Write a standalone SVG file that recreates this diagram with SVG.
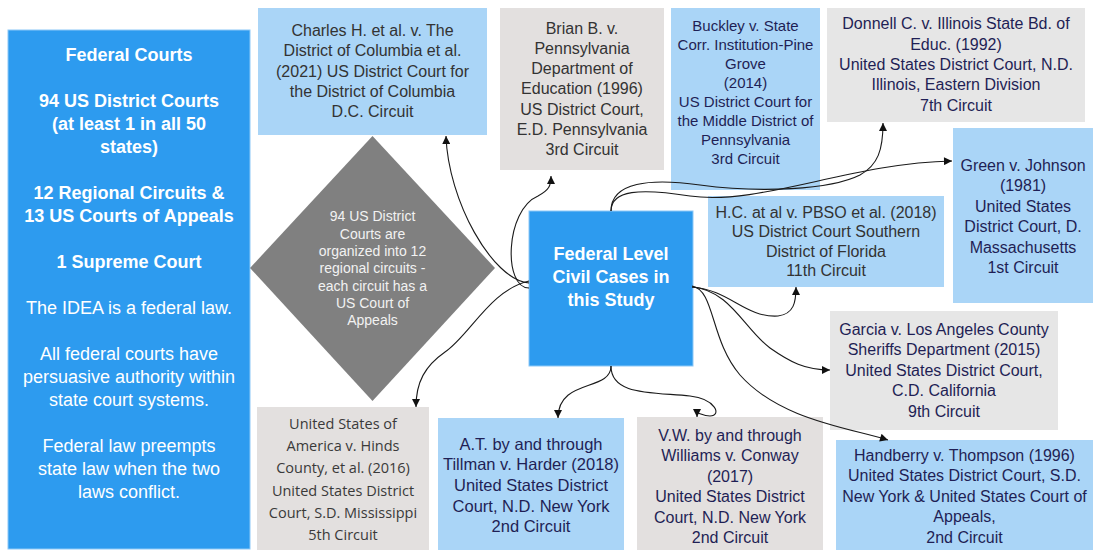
<svg xmlns="http://www.w3.org/2000/svg" width="1098" height="550" viewBox="0 0 1098 550">
<style>
.blue{fill:#2d9bef;stroke:#8cc8f7;stroke-width:1}
.lb{fill:#aad5f7}
.g1{fill:#e3e0df}
.g2{fill:#e6e6e6}
.t{font-family:"Liberation Sans",Arial,sans-serif;font-size:16px;text-anchor:middle}
.nv{fill:#1f1f55}
.dk{fill:#333333}
.wb{fill:#ffffff;font-weight:bold;font-size:18px}
.w{fill:#ffffff;font-size:18px}
.os{font-family:"Open Sans","Noto Sans",sans-serif;font-size:14.5px;text-anchor:middle;fill:#3a3a3a}
.c{fill:none;stroke:#1a1a1a;stroke-width:1.1;marker-end:url(#ah)}
</style>
<defs>
<marker id="ah" viewBox="0 0 10 10" refX="10" refY="5" markerWidth="9" markerHeight="8" markerUnits="userSpaceOnUse" orient="auto">
<path d="M0,0 L10,5 L0,10 z" fill="#111"/>
</marker>
</defs>
<rect width="1098" height="550" fill="#ffffff"/>

<g id="federal-courts">
<rect class="blue" x="8" y="30" width="242" height="519"/>
<text class="t wb" x="129" y="61">Federal Courts</text>
<text class="t wb" x="129" y="107">94 US District Courts</text>
<text class="t wb" x="129" y="130">(at least 1 in all 50</text>
<text class="t wb" x="129" y="153">states)</text>
<text class="t wb" x="129" y="199">12 Regional Circuits &amp;</text>
<text class="t wb" x="129" y="222">13 US Courts of Appeals</text>
<text class="t wb" x="129" y="268">1 Supreme Court</text>
<text class="t w" x="129" y="314">The IDEA is a federal law.</text>
<text class="t w" x="129" y="360">All federal courts have</text>
<text class="t w" x="129" y="383">persuasive authority within</text>
<text class="t w" x="129" y="406">state court systems.</text>
<text class="t w" x="129" y="452">Federal law preempts</text>
<text class="t w" x="129" y="475">state law when the two</text>
<text class="t w" x="129" y="498">laws conflict.</text>
</g>

<g id="diamond">
<polygon points="372.5,136 495,268 372.5,401 250,268" fill="#808080"/>
<g class="t" style="font-size:14px;fill:#f2f2f2">
<text x="372.5" y="221">94 US District</text>
<text x="372.5" y="238.5">Courts are</text>
<text x="372.5" y="256">organized into 12</text>
<text x="372.5" y="273">regional circuits -</text>
<text x="372.5" y="290.5">each circuit has a</text>
<text x="372.5" y="308">US Court of</text>
<text x="372.5" y="325">Appeals</text>
</g>
</g>

<g id="charles">
<rect class="lb" x="258" y="8" width="229" height="127"/>
<text class="t dk" x="372.5" y="36">Charles H. et al. v. The</text>
<text class="t dk" x="372.5" y="56.3">District of Columbia et al.</text>
<text class="t dk" x="372.5" y="76.6">(2021) US District Court for</text>
<text class="t dk" x="372.5" y="96.9">the District of Columbia</text>
<text class="t dk" x="372.5" y="117.2">D.C. Circuit</text>
</g>

<g id="brian">
<rect class="g1" x="500" y="8" width="164" height="162"/>
<text class="t dk" x="582" y="33.5">Brian B. v.</text>
<text class="t dk" x="582" y="53.8">Pennsylvania</text>
<text class="t dk" x="582" y="74.1">Department of</text>
<text class="t dk" x="582" y="94.4">Education (1996)</text>
<text class="t dk" x="582" y="114.7">US District Court,</text>
<text class="t dk" x="582" y="135">E.D. Pennsylvania</text>
<text class="t dk" x="582" y="155.3">3rd Circuit</text>
</g>

<g id="buckley">
<rect class="lb" x="671" y="8" width="149" height="182"/>
<g class="t nv" style="font-size:15px">
<text x="745.5" y="30.5">Buckley v. State</text>
<text x="745.5" y="49.5">Corr. Institution-Pine</text>
<text x="745.5" y="68.5">Grove</text>
<text x="745.5" y="87.5">(2014)</text>
<text x="745.5" y="106.5">US District Court for</text>
<text x="745.5" y="125.5">the Middle District of</text>
<text x="745.5" y="144.5">Pennsylvania</text>
<text x="745.5" y="163.5">3rd Circuit</text>
</g>
</g>

<g id="donnell">
<rect class="g2" x="827" y="8" width="258" height="114"/>
<text class="t nv" x="956" y="29.3">Donnell C. v. Illinois State Bd. of</text>
<text class="t nv" x="956" y="49.6">Educ. (1992)</text>
<text class="t nv" x="956" y="69.9">United States District Court, N.D.</text>
<text class="t nv" x="956" y="90.2">Illinois, Eastern Division</text>
<text class="t nv" x="956" y="110.5">7th Circuit</text>
</g>

<g id="green">
<rect class="lb" x="953" y="128" width="140" height="175"/>
<text class="t nv" x="1023" y="171">Green v. Johnson</text>
<text class="t nv" x="1023" y="191.4">(1981)</text>
<text class="t nv" x="1023" y="211.8">United States</text>
<text class="t nv" x="1023" y="232.2">District Court, D.</text>
<text class="t nv" x="1023" y="252.6">Massachusetts</text>
<text class="t nv" x="1023" y="273">1st Circuit</text>
</g>

<g id="hc">
<rect class="lb" x="708" y="196" width="236" height="91"/>
<text class="t dk" x="826" y="217.5">H.C. at al v. PBSO et al. (2018)</text>
<text class="t dk" x="826" y="237">US District Court Southern</text>
<text class="t dk" x="826" y="256.5">District of Florida</text>
<text class="t dk" x="826" y="276">11th Circuit</text>
</g>

<g id="center">
<rect class="blue" x="529" y="211" width="164" height="155"/>
<text class="t wb" x="611" y="259.5">Federal Level</text>
<text class="t wb" x="611" y="282.5">Civil Cases in</text>
<text class="t wb" x="611" y="305.5">this Study</text>
</g>

<g id="garcia">
<rect class="g2" x="830" y="311" width="228" height="119"/>
<text class="t nv" x="944" y="335">Garcia v. Los Angeles County</text>
<text class="t nv" x="944" y="355.4">Sheriffs Department (2015)</text>
<text class="t nv" x="944" y="375.8">United States District Court,</text>
<text class="t nv" x="944" y="396.2">C.D. California</text>
<text class="t nv" x="944" y="416.6">9th Circuit</text>
</g>

<g id="handberry">
<rect class="lb" x="836" y="440" width="257" height="110"/>
<text class="t nv" x="964.5" y="461">Handberry v. Thompson (1996)</text>
<text class="t nv" x="964.5" y="481.4">United States District Court, S.D.</text>
<text class="t nv" x="964.5" y="501.8">New York &amp; United States Court of</text>
<text class="t nv" x="964.5" y="522.2">Appeals,</text>
<text class="t nv" x="964.5" y="542.6">2nd Circuit</text>
</g>

<g id="vw">
<rect class="g1" x="637" y="417" width="186" height="133"/>
<text class="t nv" x="730" y="441">V.W. by and through</text>
<text class="t nv" x="730" y="461.4">Williams v. Conway</text>
<text class="t nv" x="730" y="481.8">(2017)</text>
<text class="t nv" x="730" y="502.2">United States District</text>
<text class="t nv" x="730" y="522.6">Court, N.D. New York</text>
<text class="t nv" x="730" y="543">2nd Circuit</text>
</g>

<g id="at">
<rect class="lb" x="438" y="418" width="186" height="132"/>
<g class="t nv" style="font-size:16.5px">
<text x="531" y="449.5">A.T. by and through</text>
<text x="531" y="470.2">Tillman v. Harder (2018)</text>
<text x="531" y="490.9">United States District</text>
<text x="531" y="511.6">Court, N.D. New York</text>
<text x="531" y="532.3">2nd Circuit</text>
</g>
</g>

<g id="usa">
<rect class="g1" x="257" y="407" width="172" height="143"/>
<text class="os" x="343" y="429">United States of</text>
<text class="os" x="343" y="451.2">America v. Hinds</text>
<text class="os" x="343" y="473.4">County, et al. (2016)</text>
<text class="os" x="343" y="495.6">United States District</text>
<text class="os" x="343" y="517.8">Court, S.D. Mississippi</text>
<text class="os" x="343" y="540">5th Circuit</text>
</g>

<g id="connectors">
<path class="c" d="M529,283 C492,280 448,200 446,136"/>
<path class="c" d="M529,288 C503,288 505,210 538,196 C549,190 551,186 551,176"/>
<path class="c" d="M529,281 C490,290 470,335 445,352 C425,366 416,382 416,407"/>
<path class="c" d="M611,211 C611,182 650,178 700,185 C760,193 830,190 860,175 C878,165 883,150 883,123"/>
<path class="c" d="M611,211 C611,190 640,188 690,196 C760,206 850,163 952,161"/>
<path class="c" d="M692,287 C730,290 745,318 778,316 C794,314 796,302 796,287"/>
<path class="c" d="M692,287 C730,290 745,330 770,348 C790,362 805,370 830,370"/>
<path class="c" d="M692,286 C715,290 710,340 740,375 C780,420 850,428 888,440"/>
<path class="c" d="M611,366 C611,392 558,378 558,418"/>
<path class="c" d="M611,366 C611,395 650,392 690,396 C716,399 722,416 710,416 C700,416 697,409 697,417"/>
</g>
</svg>
